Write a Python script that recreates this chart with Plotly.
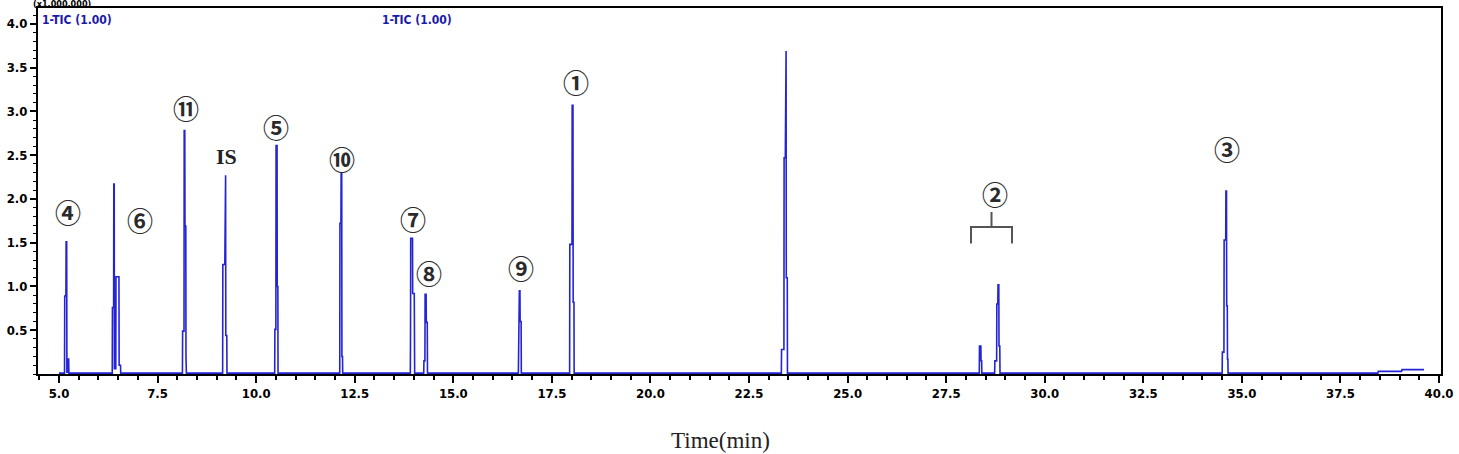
import plotly.graph_objects as go

# Chromatogram trace (time in min, intensity in x1,000,000)
b = 0.01
trace_time = [
    5.00, 5.14, 5.145, 5.175, 5.18, 5.195, 5.20, 5.225, 5.23, 5.245, 5.25,
    6.35, 6.355, 6.385, 6.39, 6.40, 6.405, 6.44, 6.445, 6.52, 6.525, 6.56, 6.565,
    8.13, 8.135, 8.17, 8.175, 8.19, 8.195, 8.215, 8.22, 8.23,
    9.15, 9.155, 9.205, 9.21, 9.225, 9.23, 9.255, 9.26,
    10.47, 10.475, 10.50, 10.505, 10.53, 10.535, 10.55, 10.555,
    12.12, 12.125, 12.15, 12.155, 12.17, 12.175, 12.19, 12.195,
    13.91, 13.915, 13.92, 13.965, 13.97, 14.01, 14.015, 14.02,
    14.25, 14.255, 14.28, 14.285, 14.31, 14.315, 14.34, 14.345,
    16.65, 16.655, 16.67, 16.675, 16.69, 16.695, 16.72, 16.725,
    17.95, 17.955, 18.01, 18.015, 18.035, 18.04, 18.06, 18.065,
    23.32, 23.325, 23.385, 23.39, 23.42, 23.425, 23.44, 23.445, 23.47, 23.475,
    28.34, 28.345, 28.38, 28.385, 28.40, 28.405,
    28.73, 28.735, 28.78, 28.785, 28.81, 28.815, 28.835, 28.84, 28.86, 28.865,
    34.50, 34.505, 34.545, 34.55, 34.59, 34.595, 34.61, 34.615, 34.63, 34.635, 34.645, 34.65,
    38.45, 38.46, 39.05, 39.06, 39.62,
]
trace_intensity = [
    b, b, 0.89, 0.89, 1.51, 1.51, 0.02, 0.02, 0.17, 0.17, b,
    b, 0.76, 0.76, 2.17, 2.17, 0.06, 0.06, 1.11, 1.11, 0.10, 0.10, b,
    b, 0.49, 0.49, 2.78, 2.78, 1.69, 1.69, 0.20, b,
    b, 1.25, 1.25, 2.27, 2.27, 0.44, 0.44, b,
    b, 0.51, 0.51, 2.61, 2.61, 1.00, 1.00, b,
    b, 1.72, 1.72, 2.29, 2.29, 0.20, 0.20, b,
    b, 0.43, 1.55, 1.55, 0.92, 0.92, 0.15, b,
    b, 0.15, 0.15, 0.91, 0.91, 0.59, 0.59, b,
    b, 0.75, 0.75, 0.95, 0.95, 0.60, 0.60, b,
    b, 1.48, 1.48, 3.07, 3.07, 0.82, 0.82, b,
    b, 0.28, 0.28, 2.47, 2.47, 3.69, 3.69, 1.10, 1.10, b,
    b, 0.32, 0.32, 0.15, 0.15, b,
    b, 0.15, 0.15, 0.80, 0.80, 1.02, 1.02, 0.32, 0.32, b,
    b, 0.25, 0.25, 1.53, 1.53, 2.09, 2.09, 0.78, 0.78, 0.17, 0.17, b,
    b, 0.03, 0.03, 0.05, 0.05,
]

# Peak labels and their positions (time, intensity)
label_texts = ["④", "⑥", "⑪", "IS", "⑤", "⑩", "⑦", "⑧", "⑨", "①", "②", "③"]
label_x = [5.23, 7.05, 8.22, 9.24, 10.50, 12.18, 13.98, 14.38, 16.72, 18.11, 28.74, 34.62]
label_y = [1.86, 1.76, 3.04, 2.48, 2.83, 2.46, 1.78, 1.16, 1.22, 3.34, 2.06, 2.58]

x_tickvals = [5.0, 7.5, 10.0, 12.5, 15.0, 17.5, 20.0, 22.5, 25.0, 27.5, 30.0, 32.5, 35.0, 37.5, 40.0]
x_ticktext = ["5.0", "7.5", "10.0", "12.5", "15.0", "17.5", "20.0", "22.5", "25.0", "27.5",
              "30.0", "32.5", "35.0", "37.5", "40.0"]
y_tickvals = [0.5, 1.0, 1.5, 2.0, 2.5, 3.0, 3.5, 4.0]
y_ticktext = ["0.5", "1.0", "1.5", "2.0", "2.5", "3.0", "3.5", "4.0"]

tickfont = dict(family="Liberation Sans Narrow, DejaVu Sans Condensed, Arial Narrow, sans-serif",
                size=13, color="#000000", weight="bold")

fig = go.Figure()
fig.add_trace(go.Scatter(x=trace_time, y=trace_intensity, mode="lines",
                         line=dict(color="#2424d4", width=1.6), hoverinfo="skip",
                         showlegend=False))

annotations = []
for t, x, y in zip(label_texts, label_x, label_y):
    if t == "IS":
        font = dict(family="Liberation Serif, DejaVu Serif, serif", size=22, color="#222222",
                    weight="bold")
    else:
        font = dict(family="Noto Sans CJK JP, DejaVu Sans, sans-serif", size=26, color="#2a2a2a",
                    weight="bold")
    annotations.append(dict(x=x, y=y, xref="x", yref="y", text=t, showarrow=False,
                            font=font, xanchor="center", yanchor="middle"))

annotations += [
    dict(x=0.0015, y=(374 - 18) / 368, xref="paper", yref="paper", text="1-TIC (1.00)",
         showarrow=False, xanchor="left", yanchor="middle",
         font=dict(family="Liberation Sans Narrow, DejaVu Sans Condensed, sans-serif",
                   size=12, color="#1a1aa8", weight="bold")),
    dict(x=(380 - 38) / 1403, y=(374 - 18) / 368, xref="paper", yref="paper", text="1-TIC (1.00)",
         showarrow=False, xanchor="left", yanchor="middle",
         font=dict(family="Liberation Sans Narrow, DejaVu Sans Condensed, sans-serif",
                   size=12, color="#1a1aa8", weight="bold")),
    dict(x=-0.004, y=(374 + 6) / 368, xref="paper", yref="paper", text="(x1,000,000)",
         showarrow=False, xanchor="left", yanchor="top", borderpad=0, yshift=-2,
         font=dict(family="Liberation Sans Narrow, DejaVu Sans Condensed, sans-serif",
                   size=9, color="#000000", weight="bold")),
    dict(x=(720 - 38) / 1403, y=-(441 - 374) / 368, xref="paper", yref="paper", text="Time(min)",
         showarrow=False, xanchor="center", yanchor="middle",
         font=dict(family="Liberation Serif, DejaVu Serif, serif", size=23, color="#222222")),
]

bracket_color = "#555555"
shapes = [
    dict(type="path", xref="x", yref="y",
         path="M 28.13 1.49 L 28.13 1.68 L 29.17 1.68 L 29.17 1.49",
         line=dict(color=bracket_color, width=2)),
    dict(type="line", xref="x", yref="y", x0=28.65, x1=28.65, y0=1.68, y1=1.85,
         line=dict(color=bracket_color, width=2)),
]

fig.update_layout(
    width=1459, height=454,
    margin=dict(l=38, r=18, t=6, b=80),
    paper_bgcolor="white", plot_bgcolor="white",
    annotations=annotations, shapes=shapes,
    showlegend=False,
)
fig.update_xaxes(range=[4.467, 40.05], tickvals=x_tickvals, ticktext=x_ticktext,
                 ticks="outside", ticklen=7, tickwidth=1.5, tickcolor="#000",
                 minor=dict(dtick=0.5, tick0=0, ticks="outside", ticklen=4, tickwidth=1.5,
                            tickcolor="#000", showgrid=False),
                 showgrid=False, zeroline=False, showline=True, linecolor="#000",
                 linewidth=1.5, mirror=True, layer="below traces", tickfont=tickfont)
fig.update_yaxes(range=[0.0, 4.18], tickvals=y_tickvals, ticktext=y_ticktext,
                 ticks="outside", ticklen=6, tickwidth=1.5, tickcolor="#000",
                 minor=dict(dtick=0.1, tick0=0, ticks="outside", ticklen=3, tickwidth=1,
                            tickcolor="#000", showgrid=False),
                 showgrid=False, zeroline=False, showline=True, linecolor="#000",
                 linewidth=2, mirror=True, layer="below traces", tickfont=tickfont)

fig.write_html("out.html")
